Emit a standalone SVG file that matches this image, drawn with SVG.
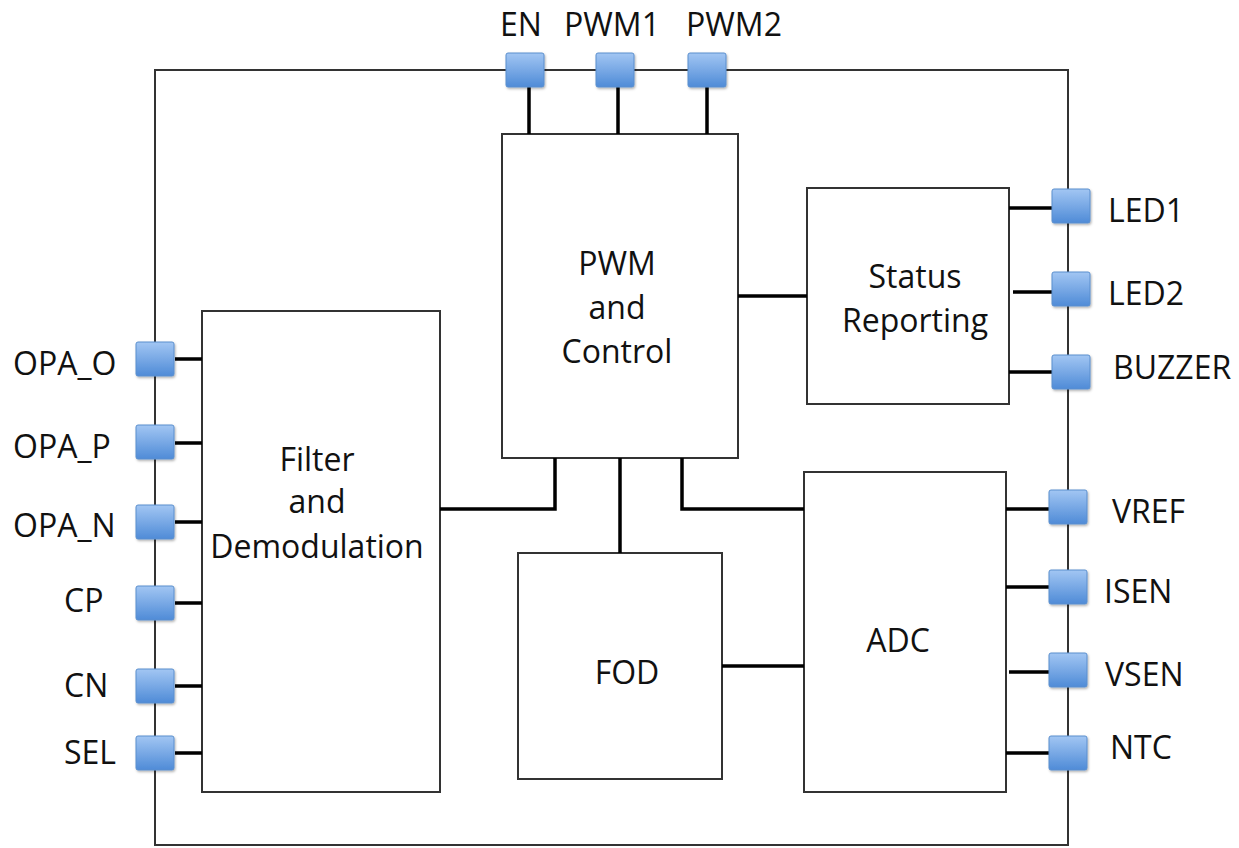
<svg xmlns="http://www.w3.org/2000/svg" width="1239" height="848" viewBox="0 0 1239 848">
<defs>
<linearGradient id="pinGrad" x1="0" y1="0" x2="0" y2="1">
<stop offset="0" stop-color="#a2c6f3"/>
<stop offset="1" stop-color="#4f8bd7"/>
</linearGradient>
<filter id="sh" x="-20%" y="-20%" width="150%" height="150%">
<feDropShadow dx="1" dy="1.5" stdDeviation="1.2" flood-color="#000" flood-opacity="0.3"/>
</filter>
<style>
.frame{fill:none;stroke:#333;stroke-width:2}
.box{fill:#fff;stroke:#333;stroke-width:2}
.wire{fill:none;stroke:#000;stroke-width:3.5}
.pin{fill:url(#pinGrad);stroke:#5b8fce;stroke-width:1;filter:url(#sh)}
text{font-family:"Open Sans","Liberation Sans",sans-serif;font-size:32px;fill:#111}
.c{text-anchor:middle}
</style>
</defs>
<rect id="chip" class="frame" x="155" y="70" width="913" height="775"/>
<g id="blocks">
<g id="pwm"><rect class="box" x="502" y="134" width="236" height="324"/><text class="c" x="617" y="275">PWM</text><text class="c" x="617" y="319">and</text><text class="c" x="617" y="363">Control</text></g>
<g id="status"><rect class="box" x="807" y="188" width="202" height="216"/><text class="c" x="915" y="288">Status</text><text class="c" x="915" y="332">Reporting</text></g>
<g id="filter"><rect class="box" x="202" y="311" width="238" height="481"/><text class="c" x="317" y="471">Filter</text><text class="c" x="317" y="513">and</text><text class="c" x="317" y="558">Demodulation</text></g>
<g id="fod"><rect class="box" x="518" y="553" width="204" height="226"/><text class="c" x="627" y="684">FOD</text></g>
<g id="adc"><rect class="box" x="804" y="472" width="202" height="320"/><text class="c" x="898" y="652">ADC</text></g>
</g>
<g id="connectors">
<path class="wire" d="M529 87V134M618 87V134M707 87V134"/>
<path class="wire" d="M175 359H202M175 443H202M175 522H202M175 603H202M175 686H202M175 753H202"/>
<path class="wire" d="M1009 208H1053M1013 292H1053M1009 372H1053"/>
<path class="wire" d="M1006 509H1049M1006 587H1049M1009 672H1049M1006 753H1049"/>
<path class="wire" d="M738 296H807"/>
<path class="wire" d="M555 458V509H440"/>
<path class="wire" d="M620 458V553"/>
<path class="wire" d="M682 458V509H804"/>
<path class="wire" d="M722 666H804"/>
</g>
<g id="pin-EN"><rect class="pin" x="506" y="53" width="38" height="34" rx="2"/><text class="c" x="521" y="36">EN</text></g>
<g id="pin-PWM1"><rect class="pin" x="596" y="53" width="38" height="34" rx="2"/><text class="c" x="612" y="36">PWM1</text></g>
<g id="pin-PWM2"><rect class="pin" x="688" y="53" width="38" height="34" rx="2"/><text class="c" x="734" y="36">PWM2</text></g>
<g id="pin-OPA_O"><rect class="pin" x="136" y="342" width="38" height="34" rx="2"/><text x="13" y="375">OPA_O</text></g>
<g id="pin-OPA_P"><rect class="pin" x="136" y="425" width="38" height="34" rx="2"/><text x="13" y="458">OPA_P</text></g>
<g id="pin-OPA_N"><rect class="pin" x="136" y="505" width="38" height="34" rx="2"/><text x="13" y="537">OPA_N</text></g>
<g id="pin-CP"><rect class="pin" x="136" y="586" width="38" height="34" rx="2"/><text x="64" y="612">CP</text></g>
<g id="pin-CN"><rect class="pin" x="136" y="669" width="38" height="34" rx="2"/><text x="64" y="697">CN</text></g>
<g id="pin-SEL"><rect class="pin" x="136" y="736" width="38" height="34" rx="2"/><text x="64" y="764">SEL</text></g>
<g id="pin-LED1"><rect class="pin" x="1052" y="189" width="38" height="34" rx="2"/><text x="1108" y="222">LED1</text></g>
<g id="pin-LED2"><rect class="pin" x="1052" y="272" width="38" height="34" rx="2"/><text x="1108" y="305">LED2</text></g>
<g id="pin-BUZZER"><rect class="pin" x="1052" y="355" width="38" height="34" rx="2"/><text x="1113" y="379">BUZZER</text></g>
<g id="pin-VREF"><rect class="pin" x="1049" y="490" width="38" height="34" rx="2"/><text x="1112" y="523">VREF</text></g>
<g id="pin-ISEN"><rect class="pin" x="1049" y="570" width="38" height="34" rx="2"/><text x="1104" y="603">ISEN</text></g>
<g id="pin-VSEN"><rect class="pin" x="1049" y="653" width="38" height="34" rx="2"/><text x="1105" y="686">VSEN</text></g>
<g id="pin-NTC"><rect class="pin" x="1049" y="736" width="38" height="34" rx="2"/><text x="1110" y="759">NTC</text></g>
</svg>
